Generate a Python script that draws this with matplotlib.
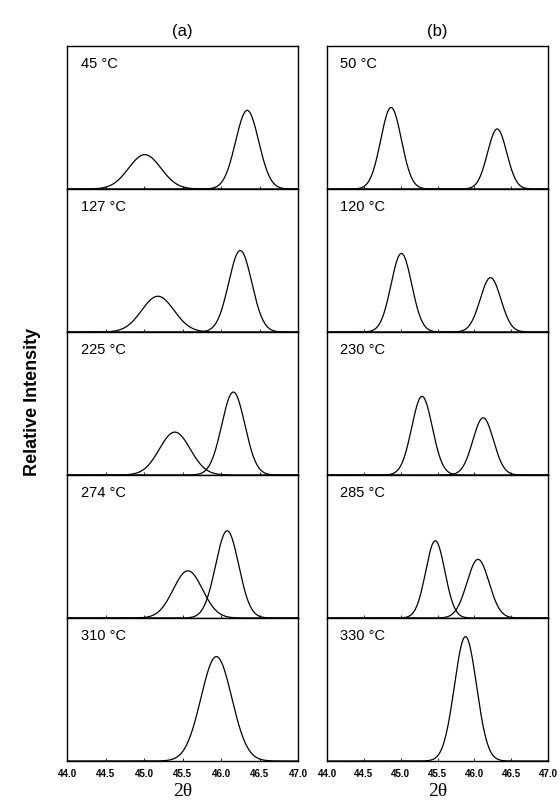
import matplotlib.pyplot as plt
import numpy as np

# etiquetas de temperatura por panel
temps_a = ['45 °C', '127 °C', '225 °C', '274 °C', '310 °C']
temps_b = ['50 °C', '120 °C', '230 °C', '285 °C', '330 °C']

# picos: (centro 2θ, altura relativa, sigma)
picos_a = [
    [(45.01, 0.24, 0.21), (46.34, 0.55, 0.15)],
    [(45.18, 0.25, 0.21), (46.25, 0.57, 0.15)],
    [(45.40, 0.30, 0.20), (46.16, 0.58, 0.15)],
    [(45.57, 0.33, 0.19), (46.08, 0.61, 0.15)],
    [(45.94, 0.73, 0.20)],
]
picos_b = [
    [(44.87, 0.57, 0.14), (46.31, 0.42, 0.13)],
    [(45.01, 0.55, 0.14), (46.22, 0.38, 0.14)],
    [(45.29, 0.55, 0.14), (46.12, 0.40, 0.14)],
    [(45.47, 0.54, 0.13), (46.05, 0.41, 0.15)],
    [(45.88, 0.87, 0.15)],
]

ticks = [44.0, 44.5, 45.0, 45.5, 46.0, 46.5, 47.0]
tick_labels = ['44.0', '44.5', '45.0', '45.5', '46.0', '46.5', '47.0']

fig = plt.figure(figsize=(5.6, 8.03), dpi=100)
plt.rcParams['font.family'] = ['Liberation Sans', 'DejaVu Sans']

x = np.linspace(44.0, 47.0, 600)
col_left = [67 / 560, 327 / 560]
anchos = [231 / 560, 221 / 560]
alto = 143 / 803
top = 1 - 47 / 803

for c, (temps, picos) in enumerate([(temps_a, picos_a), (temps_b, picos_b)]):
    for r in range(5):
        ax = fig.add_axes([col_left[c], top - (r + 1) * alto, anchos[c], alto])
        for (cen, h, s) in picos[r]:
            y = h * np.exp(-0.5 * ((x - cen) / s) ** 2)
            ax.plot(x, y, color='black', lw=0.9)
        ax.set_xlim(44.0, 47.0)
        ax.set_ylim(0, 1)
        ax.set_yticks([])
        ax.text(0.06, 0.88, temps[r], transform=ax.transAxes,
                fontsize=10.5, va='center', ha='left')
        for sp in ax.spines.values():
            sp.set_linewidth(1.0)
        ax.tick_params(axis='x', direction='in', length=2, width=0.6)
        ax.set_xticks(ticks)
        if r < 4:
            ax.set_xticklabels([])
        else:
            ax.set_xticklabels(tick_labels, fontsize=7, fontweight='bold')
            ax.tick_params(axis='x', pad=5)
            ax.set_xlabel('2θ', family='Liberation Serif', fontsize=14, labelpad=3)
        if r == 0:
            ax.set_title('(a)' if c == 0 else '(b)', fontsize=12, pad=8)

fig.text(0.058, 0.5, 'Relative Intensity', rotation=90, fontsize=13,
         fontweight='bold', ha='center', va='center')

plt.savefig('out.png', dpi=100)
